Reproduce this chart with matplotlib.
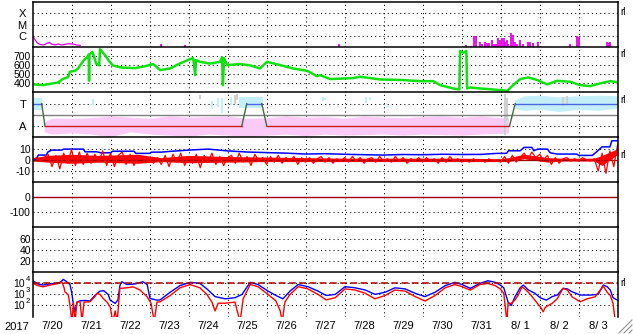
import matplotlib
matplotlib.use('Agg')
import matplotlib.pyplot as plt
import numpy as np
from matplotlib.lines import Line2D
from matplotlib.ticker import NullLocator, FixedLocator

plt.rcParams['font.family'] = ['Liberation Sans', 'DejaVu Sans']
plt.rcParams['mathtext.default'] = 'regular'

# ---------------- data (time in days from 2017-07-20 00:00) ----------------
day_labels = ['7/20', '7/21', '7/22', '7/23', '7/24', '7/25', '7/26', '7/27',
              '7/28', '7/29', '7/30', '7/31', '8/ 1', '8/ 2', '8/ 3']
year_label = '2017'

# X-ray flux
xr_line_t = [0.02, 0.06, 0.12, 0.19, 0.28, 0.36, 0.43, 0.49, 0.58, 0.66, 0.75, 0.83, 0.92, 1.05, 1.13, 1.22]
xr_line_f = [7.8e-7, 4.5e-7, 2.2e-7, 1.6e-7, 1.4e-7, 1.9e-7, 2.4e-7, 1.7e-7, 1.4e-7, 1.7e-7, 1.4e-7,
             1.6e-7, 1.8e-7, 1.7e-7, 1.4e-7, 1.3e-7]
xr_bar_t = [3.303, 3.91, 7.867, 11.108, 11.236, 11.328, 11.372, 11.474, 11.518, 11.603, 11.654, 11.705,
            11.774, 11.821, 11.885, 11.936, 11.987, 12.038, 12.077, 12.115, 12.159, 12.2, 12.256, 12.308,
            12.372, 12.415, 12.5, 12.577, 12.692, 12.756, 12.833, 12.962, 13.782, 13.962, 14.0, 14.731,
            14.769, 14.808]
xr_bar_f = [1.7e-7, 1.4e-7, 1.7e-7, 1.4e-7, 1.1e-7, 8.9e-7, 8.9e-7, 2.8e-7, 1.9e-7, 2.8e-7, 2.2e-7, 2.2e-7,
            3.9e-7, 1.9e-7, 1.9e-7, 5.6e-7, 3.9e-7, 5.6e-7, 5.6e-7, 2.6e-7, 3.9e-7, 1.9e-7, 1.6e-6, 1.1e-6,
            2.6e-7, 1.9e-7, 3.9e-7, 1.9e-7, 2.6e-7, 2.6e-7, 2.2e-7, 2.6e-7, 1.9e-7, 8.9e-7, 7.2e-7, 2.8e-7,
            2.3e-7, 2.8e-7]

# Solar wind speed (km/s)
sw_t = [0.01, 0.27, 0.45, 0.65, 0.71, 0.76, 0.91, 0.96, 1.09, 1.17,
        1.22, 1.32, 1.40, 1.44, 1.45, 1.46, 1.53, 1.58, 1.63, 1.71,
        1.73, 1.81, 1.88, 1.96, 2.06, 2.19, 2.32, 2.63, 2.88, 3.09,
        3.19, 3.27, 3.53, 3.78, 4.04, 4.12, 4.17, 4.19, 4.29, 4.55,
        4.81, 4.86, 4.88, 4.91, 4.99, 5.32, 5.58, 5.83, 6.01, 6.35,
        6.68, 7.04, 7.29, 7.37, 7.63, 8.22, 8.40, 8.91, 9.50, 9.94,
        10.27, 10.45, 10.78, 10.94, 10.96, 11.04, 11.12, 11.14, 11.22, 11.47,
        11.99, 12.17, 12.32, 12.50, 12.71, 12.94, 13.19, 13.45, 13.78, 14.04,
        14.29, 14.55, 14.81, 14.99]
sw_v = [389, 381, 395, 410, 425, 445, 470, 530, 540, 566,
        600, 660, 690, 720, 430, 720, 750, 700, 620, 600,
        780, 740, 700, 650, 600, 585, 575, 570, 590, 615,
        580, 548, 566, 622, 670, 680, 492, 660, 640, 620,
        640, 690, 381, 680, 603, 615, 600, 566, 640, 603,
        566, 540, 481, 492, 448, 459, 474, 444, 437, 425,
        425, 381, 344, 333, 760, 740, 760, 344, 355, 344,
        326, 318, 381, 448, 466, 437, 389, 429, 418, 381,
        370, 400, 425, 414]

# IMF sector (T = +1, A = -1)
sector_t = [0, 0.236, 0.32, 5.364, 5.492, 5.877, 6.005, 12.226, 12.372, 15]
sector_v = [1, 1, -1, -1, 1, 1, -1, -1, 1, 1]
pink_t = [0.3, 0.5, 1.0, 1.5, 2.0, 2.5, 3.0, 3.5, 4.0, 4.5, 5.0, 5.5, 6.0, 6.5, 7.0, 7.5,
          8.0, 8.5, 9.0, 9.5, 10.0, 10.5, 11.0, 11.5, 12.2]
pink_hi = [-0.6, -0.3, -0.3, -0.25, -0.1, -0.2, -0.3, -0.1, -0.2, -0.15, -0.1, -0.3, -0.25, -0.1,
           -0.2, -0.15, -0.3, -0.1, -0.2, -0.25, -0.15, -0.1, -0.2, -0.1, -0.3]
pink_lo = [-1.5, -1.7, -1.6, -1.7, -1.95, -1.5, -1.7, -1.8, -1.9, -1.7, -1.8, -1.9, -1.8, -1.7,
           -1.85, -1.7, -1.8, -1.75, -1.7, -1.8, -1.7, -1.75, -1.8, -1.7, -1.6]
cyan1_t = [0.0, 0.25]; cyan1_hi = [1.5, 1.5]; cyan1_lo = [0.45, 0.45]
cyan2_t = [5.3, 5.9]; cyan2_hi = [1.6, 1.6]; cyan2_lo = [0.6, 0.6]
cyan3_t = [12.35, 12.6, 13.0, 13.5, 14.0, 14.5, 15.0]
cyan3_hi = [1.3, 1.7, 1.75, 1.6, 1.7, 1.75, 1.7]
cyan3_lo = [0.6, 0.4, 0.5, 0.3, 0.5, 0.4, 0.6]
cyan_pts_t = [1.55, 4.6, 4.75, 4.85, 5.1, 7.45, 7.5, 8.55, 8.65, 9.1]
cyan_pts_lo = [0.9, 0.5, 0.7, 0.2, 0.9, 1.2, 1.3, 1.1, 1.3, 0.6]
cyan_pts_hi = [1.4, 1.2, 1.5, 1.5, 1.6, 1.6, 1.5, 1.6, 1.6, 0.9]
gray_pts_t = [4.3, 5.2, 5.25, 12.1, 12.15, 13.6, 13.7]
gray_pts_lo = [1.4, 1.0, 1.3, -1.8, -0.5, 0.8, 1.0]
gray_pts_hi = [1.8, 1.8, 1.9, 1.9, 1.5, 1.6, 1.7]

# IMF Bt (blue) and Bz (red), nT
bt_t = [0, 0.1, 0.15, 0.35, 0.4, 0.5, 0.75, 0.8, 1.3, 1.35,
        1.65, 1.75, 2.0, 2.05, 2.6, 2.65, 3.0, 3.05, 3.3, 3.5,
        4.0, 4.5, 5.0, 5.5, 6.0, 6.5, 7.0, 7.5, 8.0, 8.5,
        9.0, 9.5, 10.0, 10.5, 11.0, 11.5, 11.9, 12.15, 12.2, 12.5,
        12.6, 12.8, 12.85, 12.95, 13.2, 13.27, 13.45, 13.95, 14.0, 14.35,
        14.46, 14.6, 14.8, 14.85, 15.0]
bt_v = [0, 1, 4.3, 4.3, 7.2, 8.7, 8.7, 9.6, 9.6, 7.2,
        7.2, 6.3, 6.3, 7.7, 7.7, 5.8, 5.8, 6.9, 6.9, 7.5,
        8.7, 9.6, 8.0, 7.0, 6.5, 6.0, 5.2, 5.5, 5.0, 4.6,
        4.3, 4.8, 4.6, 5.0, 4.8, 4.9, 5.8, 5.8, 8.1, 8.1,
        11.1, 11.1, 8.1, 9.6, 9.6, 6.3, 5.2, 5.2, 4.0, 4.0,
        7.2, 11.6, 11.6, 17, 17]
bz_t = [round(0.1 * i, 1) for i in range(151)]
bz_v = [0, 2, -1, 2,
        5, -6, 4, -8, 6, -3,
        9, -5, 7,
        -4, 6, -3, 5, -2,
        8, -5, 6, -6, 4, 7, -4, 5, -5, 3,
        2, -2, 1, -3, 2,
        -4, 4, -6, 5, -2, 6, -5, 3,
        -3, 5, -7, 4, -2, 6, -4, 3, -5, 2,
        4, -3, 6, -2, 3, -5, 5, -1, 2, -4,
        3, -2, 4, -3, 2, -1, 3, -4, 2, -2,
        2, -3, 1, 3, -2, 2, -3, 1, -1, 2,
        -2, 3, -1, 2, -3, 1, 2, -2, 3, -1,
        1, -2, 3, -1, 2, -3, 1, -1, 2, -2,
        2, -1, 1, -3, 2, -2, 3, -1, 1, -2,
        0, -2, 1, -1, 0, -2, 1, -1, 0, -2,
        3, -3, 4, -2, 2,
        6, 1, 7, 2, 5, 0, 4,
        -4, 2, -3, 1,
        2, -1, 1, -1, 2, 0, -1, 1,
        -10, 6, -12, 8, -6,
        14]
# dense core of the Bz trace
bzc_t = [0, 0.4, 1.0, 1.7, 2.7, 3.3, 4.0, 5.0, 6.0, 7.0, 8.0, 9.0, 10.0, 11.0, 12.0, 12.2,
         12.6, 13.2, 13.6, 14.4, 14.6, 15.0]
bzc_hi = [2, 4, 5, 4, 5, 2, 4, 3, 2.5, 2, 1.5, 1.5, 1.5, 1.5, 1, 2, 5, 2, 1.5, 1.5, 4, 10]
bzc_lo = [-1, -2, -3, -2, -3, -1.5, -2.5, -2, -1.5, -1.5, -1.5, -1.5, -1.5, -1.5, -1.5, -1.5,
          1, -2, -1, -1, -5, 5]

# Dst
dst_t = [0, 15]
dst_v = [0, 0]

# Electron flux (log10)
eb_t = [0.01, 0.14, 0.27, 0.45, 0.6, 0.71, 0.79, 0.86, 0.96, 1.01, 1.05, 1.09, 1.14, 1.22, 1.35, 1.47,
        1.6, 1.73, 1.83, 1.94, 1.99, 2.12, 2.19, 2.24, 2.29, 2.42, 2.63, 2.83, 2.94, 3.01, 3.19, 3.27,
        3.53, 3.78, 4.04, 4.29, 4.47, 4.68, 4.94, 5.19, 5.37, 5.58, 5.78, 6.04, 6.24, 6.42, 6.6, 6.81,
        7.06, 7.32, 7.53, 7.76, 8.01, 8.27, 8.53, 8.78, 9.04, 9.29, 9.55, 9.81, 10.06, 10.32, 10.58,
        10.83, 11.01, 11.22, 11.47, 11.67, 11.86, 11.99, 12.08, 12.19, 12.27, 12.37, 12.5, 12.58, 12.71,
        12.88, 13.01, 13.17, 13.32, 13.45, 13.6, 13.71, 13.83, 14.04, 14.29, 14.5, 14.63, 14.73, 14.81,
        14.88, 14.99]
eb_log = [4.24, 3.95, 3.85, 3.95, 4.0, 4.1, 4.36, 4.2, 3.9, 3.09, 2.0, 1.42, 2.3, 2.42, 2.45, 2.4,
          2.9, 3.3, 3.33, 3.0, 2.48, 2.18, 2.5, 3.8, 4.15, 3.9, 3.95, 4.15, 3.9, 2.64, 2.48, 2.5,
          3.2, 3.8, 4.1, 4.0, 3.5, 2.8, 2.6, 2.7, 3.0, 4.1, 3.9, 3.3, 2.9, 2.6, 3.3, 3.9,
          3.7, 3.3, 2.9, 3.0, 3.7, 3.6, 3.4, 3.0, 3.2, 3.6, 3.5, 3.1, 2.8, 3.2, 3.8,
          4.1, 3.9, 3.55, 4.0, 4.24, 4.1, 3.85, 3.6, 2.3, 2.0, 2.8, 3.6, 3.85, 3.4,
          3.1, 2.7, 2.48, 2.8, 2.94, 3.55, 3.5, 3.24, 2.94, 2.94, 3.0, 3.85, 3.7, 3.4,
          2.7, 2.48]
er_t = [0.01, 0.14, 0.27, 0.45, 0.6, 0.76, 0.81, 0.83, 0.92, 0.96, 1.01, 1.05, 1.09, 1.14, 1.22, 1.27,
        1.32, 1.47, 1.6, 1.65, 1.73, 1.81, 1.91, 1.99, 2.06, 2.12, 2.17, 2.24, 2.42, 2.58, 2.76, 2.94,
        3.04, 3.12, 3.19, 3.27, 3.53, 3.78, 4.04, 4.29, 4.47, 4.6, 4.68, 4.76, 4.94, 5.19, 5.32, 5.4,
        5.58, 5.78, 6.04, 6.24, 6.35, 6.4, 6.47, 6.6, 6.81, 7.06, 7.32, 7.53, 7.76, 8.01, 8.27, 8.53,
        8.78, 9.04, 9.29, 9.55, 9.81, 10.06, 10.32, 10.58, 10.83, 11.01, 11.22, 11.47, 11.67, 11.86,
        11.99, 12.08, 12.16, 12.19, 12.27, 12.37, 12.45, 12.55, 12.65, 12.76, 12.94, 13.04, 13.09,
        13.14, 13.22, 13.32, 13.45, 13.6, 13.71, 13.83, 14.04, 14.22, 14.42, 14.63, 14.73, 14.81,
        14.88, 14.94, 14.99]
er_log = [4.0, 3.8, 3.69, 3.85, 3.95, 4.1, 3.6, 3.24, 2.94, 2.0, 0.5, 2.2, 0.5, 2.3, 2.33, 0.5,
          2.3, 2.33, 2.8, 3.09, 3.0, 2.64, 2.3, 1.87, 0.5, 1.5, 0.5, 3.55, 3.6, 3.69, 3.39, 2.78,
          2.18, 0.5, 2.3, 2.33, 2.9, 3.6, 3.9, 3.6, 3.0, 2.3, 1.5, 2.2, 2.2, 2.3, 0.5, 2.6,
          3.9, 3.7, 3.0, 2.4, 1.5, 0.5, 2.3, 3.0, 3.7, 3.5, 3.0, 2.5, 2.7, 3.5, 3.4, 3.1,
          2.6, 2.9, 3.4, 3.3, 2.8, 2.4, 2.9, 3.6, 3.9, 3.7, 3.39, 3.9, 4.0, 3.8,
          3.5, 3.09, 0.5, 2.2, 2.18, 2.5, 2.94, 3.69, 3.4, 3.0, 2.2, 1.75, 1.42,
          1.8, 2.0, 2.18, 2.6, 3.55, 3.4, 2.78, 2.33, 2.6, 2.78, 3.75, 3.2, 2.9,
          2.2, 0.5, 0.5]
e_threshold = 1e4

# ---------------- figure ----------------
W_PX, H_PX = 633, 334
fig = plt.figure(figsize=(W_PX / 100, H_PX / 100), dpi=100)
left_px, right_px = 32.5, 617.7
top_px, panel_px = 2.4, 45.0

axes = []
for i in range(7):
    ytop = top_px + panel_px * i
    b = 1 - (ytop + panel_px) / H_PX
    ax = fig.add_axes([left_px / W_PX, b, (right_px - left_px) / W_PX, panel_px / H_PX])
    axes.append(ax)

dot = (0, (1, 3))
for ax in axes:
    ax.set_xlim(0, 15)
    ax.xaxis.set_major_locator(FixedLocator(list(range(1, 15))))
    ax.xaxis.set_minor_locator(NullLocator())
    ax.tick_params(axis='x', which='both', length=0, labelbottom=False)
    ax.tick_params(axis='y', which='both', length=0, labelsize=7.5, pad=1.2)
    ax.grid(True, which='major', color='black', linestyle=dot, linewidth=0.75)
    ax.set_axisbelow(True)
    for s in ax.spines.values():
        s.set_linewidth(1.1)
        s.set_color('black')
    ax.spines['bottom'].set_visible(False)

# Panel 1: X-ray
ax = axes[0]
ax.set_yscale('log')
ax.set_ylim(10 ** -7.07, 1e-3)
ax.yaxis.set_major_locator(FixedLocator([1e-6, 1e-5, 1e-4]))
ax.yaxis.set_minor_locator(NullLocator())
ax.set_yticklabels(['C', 'M', 'X'])
ax.tick_params(axis='y', pad=4.5, labelsize=8)
ax.plot(xr_line_t, xr_line_f, color='#e600e6', lw=0.9)
ax.vlines(xr_bar_t, 10 ** -7.07, xr_bar_f, color='#e600e6', lw=1.3)

# Panel 2: solar wind speed
ax = axes[1]
ax.set_ylim(300, 800)
ax.set_yticks([400, 500, 600, 700])
ax.plot(sw_t, sw_v, color='#11e011', lw=1.8)

# Panel 3: IMF sector
ax = axes[2]
ax.set_ylim(-2, 2)
ax.set_yticks([-1, 1])
ax.set_yticklabels(['A', 'T'])
ax.tick_params(axis='y', pad=4.5, labelsize=8)
pink = '#fbcaf6'
cyan = '#c4eff9'
ax.fill_between(pink_t, pink_lo, pink_hi, color=pink, lw=0)
ax.fill_between(cyan1_t, cyan1_lo, cyan1_hi, color=cyan, lw=0)
ax.fill_between(cyan2_t, cyan2_lo, cyan2_hi, color=cyan, lw=0)
ax.fill_between(cyan3_t, cyan3_lo, cyan3_hi, color=cyan, lw=0)
ax.vlines(cyan_pts_t, cyan_pts_lo, cyan_pts_hi, color=cyan, lw=1.5)
ax.vlines(gray_pts_t, gray_pts_lo, gray_pts_hi, color='#d0d0d0', lw=1.5)
ax.axhline(0, color='#808080', lw=1.0)
for k in range(len(sector_t) - 1):
    v0, v1 = sector_v[k], sector_v[k + 1]
    if v0 == v1 == 1:
        c = '#4a66e0'
    elif v0 == v1 == -1:
        c = '#c81e1e'
    else:
        c = '#3f6f3f'
    ax.plot(sector_t[k:k + 2], sector_v[k:k + 2], color=c, lw=1.0)

# Panel 4: IMF Bt / Bz
ax = axes[3]
ax.set_ylim(-20, 20)
ax.set_yticks([-10, 0, 10])
ax.set_yticklabels(['-10', '0', '10'])
ax.axhline(0, color='#a00000', lw=0.9)
ax.plot(bt_t, bt_v, color='#0000ff', lw=1.1)
ax.fill_between(bzc_t, bzc_lo, bzc_hi, color='#ff0000', lw=0)
ax.plot(bz_t, bz_v, color='#ff0000', lw=0.9)

# Panel 5: Dst
ax = axes[4]
ax.set_ylim(-200, 100)
ax.set_yticks([-100, 0])
ax.set_yticklabels(['-100', '0'])
ax.plot(dst_t, dst_v, color='#a00000', lw=1.0)

# Panel 6: empty
ax = axes[5]
ax.set_ylim(0, 80)
ax.set_yticks([20, 40, 60])

# Panel 7: electron flux
ax = axes[6]
ax.set_yscale('log')
ax.set_ylim(10 ** 0.91, 1e5)
e_ticks = [1e2, 1e3, 1e4]
e_exps = ['2', '3', '4']
ax.yaxis.set_major_locator(FixedLocator(e_ticks))
ax.yaxis.set_minor_locator(NullLocator())
ax.set_yticklabels(['10'] * 3)
ax.tick_params(axis='y', labelsize=7.5, pad=5.2)
for val, ex in zip(e_ticks, e_exps):
    ax.annotate(ex, xy=(0, val), xycoords=('axes fraction', 'data'), xytext=(-7, 4),
                textcoords='offset pixels', ha='left', va='center', fontsize=5.5,
                annotation_clip=False)
ax.plot(eb_t, [10 ** v for v in eb_log], color='#0000ff', lw=1.0)
ax.plot(er_t, [10 ** v for v in er_log], color='#ff0000', lw=1.0)
ax.plot([0, 15], [e_threshold, e_threshold], color='#b00000', lw=1.1, linestyle=(0, (4.5, 2.2)))

# x labels
xt = ax.get_xaxis_transform()
for i, lab in enumerate(day_labels):
    ax.text(i + 0.5, -0.2, lab, transform=xt, ha='center', va='center', fontsize=8, clip_on=False)
fig.text(17 / W_PX, 1 - 326.5 / H_PX, year_label, ha='center', va='center', fontsize=8)

# right-side marks
for ypx in [12.3, 54.3, 100, 155, 283]:
    fig.text(620 / W_PX, 1 - ypx / H_PX, 'rl', ha='left', va='center', fontsize=7)

# resize grip
for (x0, y0, x1, y1) in [(619, 333, 632, 320), (624, 333, 632, 325), (629, 333, 632, 330)]:
    fig.add_artist(Line2D([x0 / W_PX, x1 / W_PX], [1 - y0 / H_PX, 1 - y1 / H_PX],
                          transform=fig.transFigure, color='#909090', lw=0.8))

fig.savefig('out.png', dpi=100)
